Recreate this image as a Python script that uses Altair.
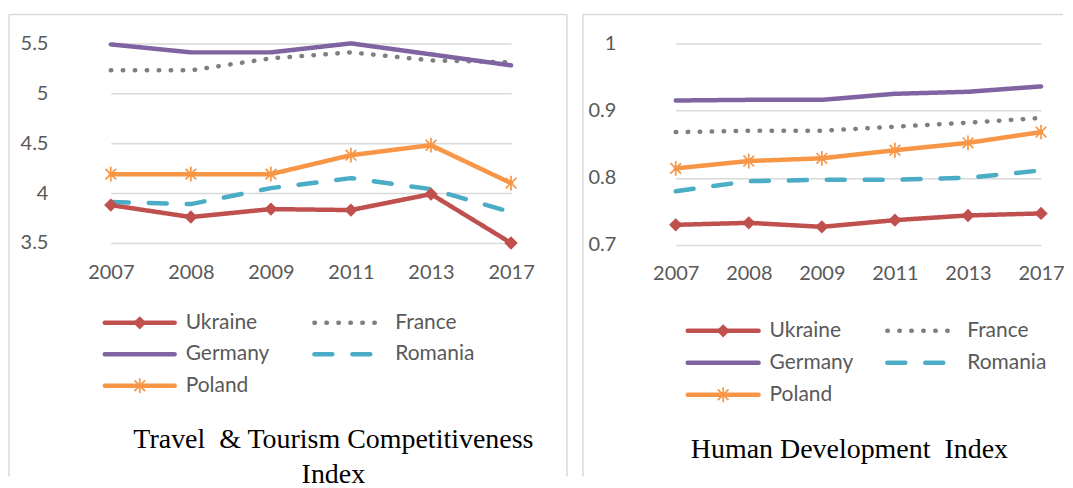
import altair as alt
import pandas as pd

# ---------------- data ----------------
years = ["2007", "2008", "2009", "2011", "2013", "2017"]
countries = ["Ukraine", "France", "Germany", "Romania", "Poland"]  # legend order
colors = ["#C0504D", "#7F7F7F", "#8064A2", "#4BACC6", "#F79646"]

ttci_ukraine = [3.88, 3.76, 3.84, 3.83, 3.99, 3.50]
ttci_france = [5.23, 5.23, 5.35, 5.41, 5.33, 5.31]
ttci_germany = [5.49, 5.41, 5.41, 5.50, 5.39, 5.28]
ttci_romania = [3.91, 3.89, 4.05, 4.15, 4.04, 3.81]
ttci_poland = [4.19, 4.19, 4.19, 4.38, 4.48, 4.10]

hdi_ukraine = [0.730, 0.733, 0.727, 0.737, 0.744, 0.747]
hdi_france = [0.868, 0.870, 0.870, 0.876, 0.882, 0.889]
hdi_germany = [0.915, 0.916, 0.916, 0.925, 0.928, 0.936]
hdi_romania = [0.780, 0.795, 0.797, 0.797, 0.800, 0.811]
hdi_poland = [0.814, 0.825, 0.829, 0.841, 0.852, 0.868]

ttci_ticks = [3.5, 4, 4.5, 5, 5.5]
hdi_ticks = [0.7, 0.8, 0.9, 1]

ttci_title = "Travel\u00a0 & Tourism Competitiveness\nIndex"
hdi_title = "Human Development\u00a0 Index"


def long_df(series):
    rows = []
    for c, vals in series.items():
        for y, v in zip(years, vals):
            rows.append({"country": c, "year": y, "value": v})
    return pd.DataFrame(rows)


ttci_df = long_df({"Ukraine": ttci_ukraine, "France": ttci_france, "Germany": ttci_germany,
                   "Romania": ttci_romania, "Poland": ttci_poland})
hdi_df = long_df({"Ukraine": hdi_ukraine, "France": hdi_france, "Germany": hdi_germany,
                  "Romania": hdi_romania, "Poland": hdi_poland})
legend_df = pd.DataFrame({"country": countries})

# ---------------- styles ----------------
dashes = [[1, 0], [0.5, 11.5], [1, 0], [18, 20], [1, 0]]
STAR = "M0,-1L0,1M-0.72,-0.72L0.72,0.72M-0.72,0.72L0.72,-0.72"
DIAMOND = "M0,-1L1,0L0,1L-1,0Z"
LABEL_FONT = "Lato"
GRAY = "#595959"
FRAME = "#d9d9d9"
LW = 4.5

color_enc = alt.Color("country:N", scale=alt.Scale(domain=countries, range=colors), legend=None)
dash_enc = alt.StrokeDash("country:N", scale=alt.Scale(domain=countries, range=dashes), legend=None)


def panel(df, width, height, y_domain, y_ticks, x_range, xlab_pad, ylab_pad,
          leg, title_text, title_xy, frame):
    x = alt.X("year:O", sort=years,
              scale=alt.Scale(type="point", range=x_range, padding=0),
              axis=alt.Axis(title=None, labelAngle=0, domain=False, ticks=False, grid=False,
                            labelPadding=xlab_pad, labelFontSize=20, labelFont=LABEL_FONT,
                            labelColor=GRAY))
    y = alt.Y("value:Q",
              scale=alt.Scale(domain=y_domain, nice=False, zero=False),
              axis=alt.Axis(title=None, values=y_ticks, format="~g", domain=False, ticks=False,
                            grid=True, gridColor=FRAME, gridWidth=1.5,
                            labelPadding=ylab_pad, labelFontSize=20, labelFont=LABEL_FONT,
                            labelColor=GRAY))
    base = alt.Chart(df)
    lines = base.mark_line(strokeWidth=LW, strokeCap="round", strokeJoin="round").encode(
        x=x, y=y, color=color_enc, strokeDash=dash_enc, detail="country:N")
    diamonds = base.transform_filter(alt.datum.country == "Ukraine").mark_point(
        shape=DIAMOND, filled=True, size=180, opacity=1).encode(x=x, y=y, color=color_enc)
    stars = base.transform_filter(alt.datum.country == "Poland").mark_point(
        shape=STAR, filled=False, size=220, strokeWidth=1.7, opacity=1).encode(
        x=x, y=y, color=color_enc)
    data_layer = alt.layer(lines, diamonds, stars)

    # legend (positions computed from item order)
    lx0, lx1, col_step, tx0, tx1, ly0, row_step = leg
    lb = alt.Chart(legend_df).transform_window(idx="row_number()").transform_calculate(
        col="(datum.idx - 1) % 2", row="floor((datum.idx - 1) / 2)"
    ).transform_calculate(
        x1=f"{lx0} + datum.col * {col_step}",
        x2=f"{lx1} + datum.col * {col_step}",
        ly=f"{ly0} + datum.row * {row_step}",
        tx=f"datum.col == 0 ? {tx0} : {tx1}",
    ).transform_calculate(mx="(datum.x1 + datum.x2) / 2")
    leg_lines = lb.mark_rule(strokeWidth=LW, strokeCap="round").encode(
        x=alt.X("x1:Q", scale=None), x2="x2:Q", y=alt.Y("ly:Q", scale=None),
        color=color_enc, strokeDash=dash_enc)
    leg_dia = lb.transform_filter(alt.datum.country == "Ukraine").mark_point(
        shape=DIAMOND, filled=True, size=180, opacity=1).encode(
        x=alt.X("mx:Q", scale=None), y=alt.Y("ly:Q", scale=None), color=color_enc)
    leg_star = lb.transform_filter(alt.datum.country == "Poland").mark_point(
        shape=STAR, filled=False, size=220, strokeWidth=1.7, opacity=1).encode(
        x=alt.X("mx:Q", scale=None), y=alt.Y("ly:Q", scale=None), color=color_enc)
    leg_text = lb.mark_text(align="left", baseline="middle", fontSize=21, font=LABEL_FONT,
                            color=GRAY).encode(
        x=alt.X("tx:Q", scale=None), y=alt.Y("ly:Q", scale=None), text="country:N")

    title = alt.Chart(pd.DataFrame({"t": [title_text]})).mark_text(
        align="center", baseline="alphabetic", font="Liberation Serif", fontSize=28,
        color="black", lineBreak="\n", lineHeight=35).encode(
        x=alt.value(title_xy[0]), y=alt.value(title_xy[1]), text="t:N")

    one = pd.DataFrame({"k": [0]})
    fl, ft, fb, fr, right_side = frame
    frames = [
        alt.Chart(one).mark_rule(color=FRAME, strokeWidth=1.5).encode(
            x=alt.value(fl), y=alt.value(ft), y2=alt.value(fb)),
        alt.Chart(one).mark_rule(color=FRAME, strokeWidth=1.5).encode(
            x=alt.value(fl), x2=alt.value(fr), y=alt.value(ft)),
    ]
    if right_side:
        frames.append(alt.Chart(one).mark_rule(color=FRAME, strokeWidth=1.5).encode(
            x=alt.value(fr), y=alt.value(ft), y2=alt.value(fb)))

    return alt.layer(*frames, data_layer, leg_lines, leg_dia, leg_star, leg_text, title
                     ).resolve_scale(x="independent", y="independent"
                     ).properties(width=width, height=height)


left = panel(ttci_df, 480, 200, [3.5, 5.5], ttci_ticks, [40, 441], 20, 23,
             (34, 104, 210, 115, 325, 280, 31.5), ttci_title, (263, 405),
             (-62, -29, 434, 497, True))
right = panel(hdi_df, 424, 202, [0.7, 1.0], hdi_ticks, [36, 402], 19, 24,
              (48, 119, 200, 130, 328, 288, 32), hdi_title, (210, 415),
              (-57, -29, 434, 424, False))

chart = alt.hconcat(left, right, spacing=90, bounds="flush").properties(
    padding={"left": 0, "top": 5, "right": 0, "bottom": 0},
    background="white",
).configure_view(stroke=None)

chart.save("out.html", embed_options={"renderer": "svg", "actions": False})
